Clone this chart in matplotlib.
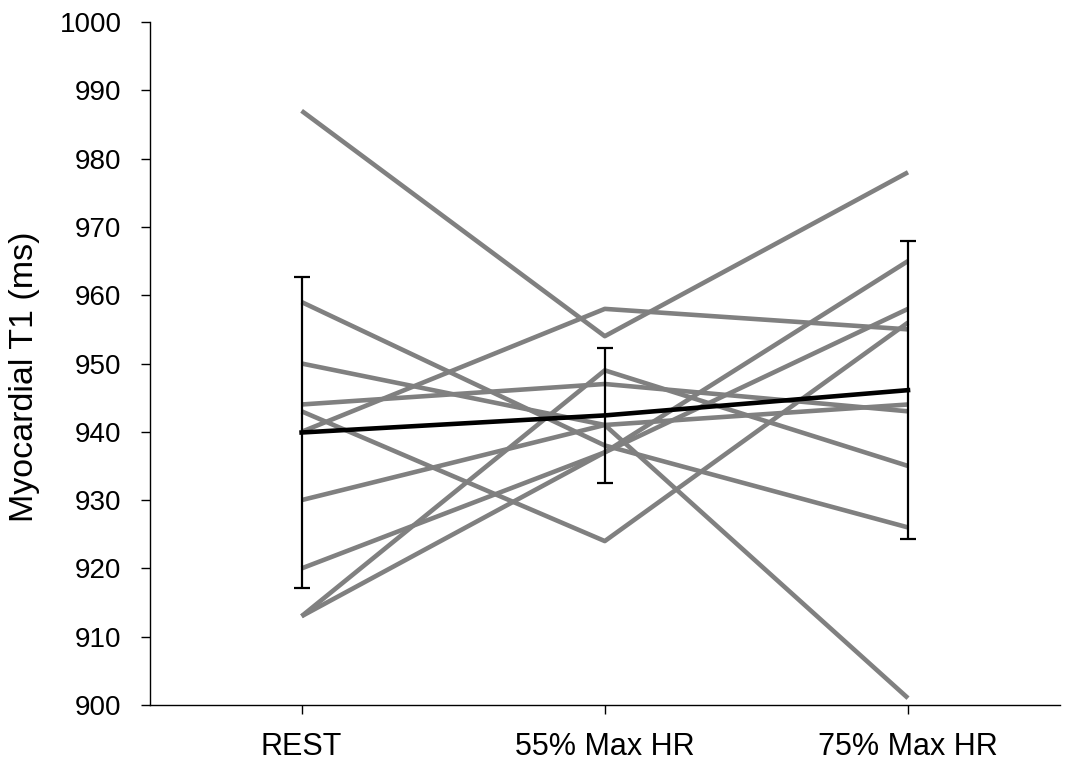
import numpy as np
import matplotlib.pyplot as plt

plt.rcParams['font.family'] = ['Liberation Sans', 'DejaVu Sans']

stages = ["REST", "55% Max HR", "75% Max HR"]

# individual subjects (ms)
subj_01 = [987, 954, 978]
subj_02 = [940, 958, 955]
subj_03 = [913, 949, 935]
subj_04 = [944, 947, 943]
subj_05 = [943, 924, 956]
subj_06 = [913, 937, 965]
subj_07 = [920, 937, 958]
subj_08 = [930, 941, 944]
subj_09 = [950, 941, 901]
subj_10 = [959, 938, 926]
subjects = [subj_01, subj_02, subj_03, subj_04, subj_05,
            subj_06, subj_07, subj_08, subj_09, subj_10]

mean_t1 = [939.9, 942.4, 946.1]
sd_t1 = [22.7, 9.9, 21.8]

fig = plt.figure(figsize=(10.66, 7.62), dpi=100)
ax = fig.add_axes([0.1407, 0.0748, 0.8533, 0.8963])

x = np.arange(len(stages))
for s in subjects:
    ax.plot(x, s, color="#808080", lw=3.3, solid_capstyle="butt", zorder=2)

ax.plot(x, mean_t1, color="black", lw=3.3, zorder=3)
ax.errorbar(x, mean_t1, yerr=sd_t1, fmt="none", ecolor="black",
            elinewidth=1.6, capsize=6, capthick=1.6, zorder=4)

ax.set_xlim(-0.5, 2.5)
ax.set_ylim(900, 1000)
ax.set_yticks(np.arange(900, 1001, 10))
ax.set_xticks(x)
ax.set_xticklabels(stages)
ax.set_ylabel("Myocardial T1 (ms)", fontsize=24.5)
ax.yaxis.set_label_coords(-0.121, 0.48)

for sp in ["top", "right"]:
    ax.spines[sp].set_visible(False)
for sp in ["left", "bottom"]:
    ax.spines[sp].set_linewidth(1.0)
ax.tick_params(axis="both", direction="out", length=6.5, width=1.0)
ax.tick_params(axis="x", pad=13, labelsize=22)
ax.tick_params(axis="y", pad=14, labelsize=20)

fig.savefig("out.png", dpi=100)
